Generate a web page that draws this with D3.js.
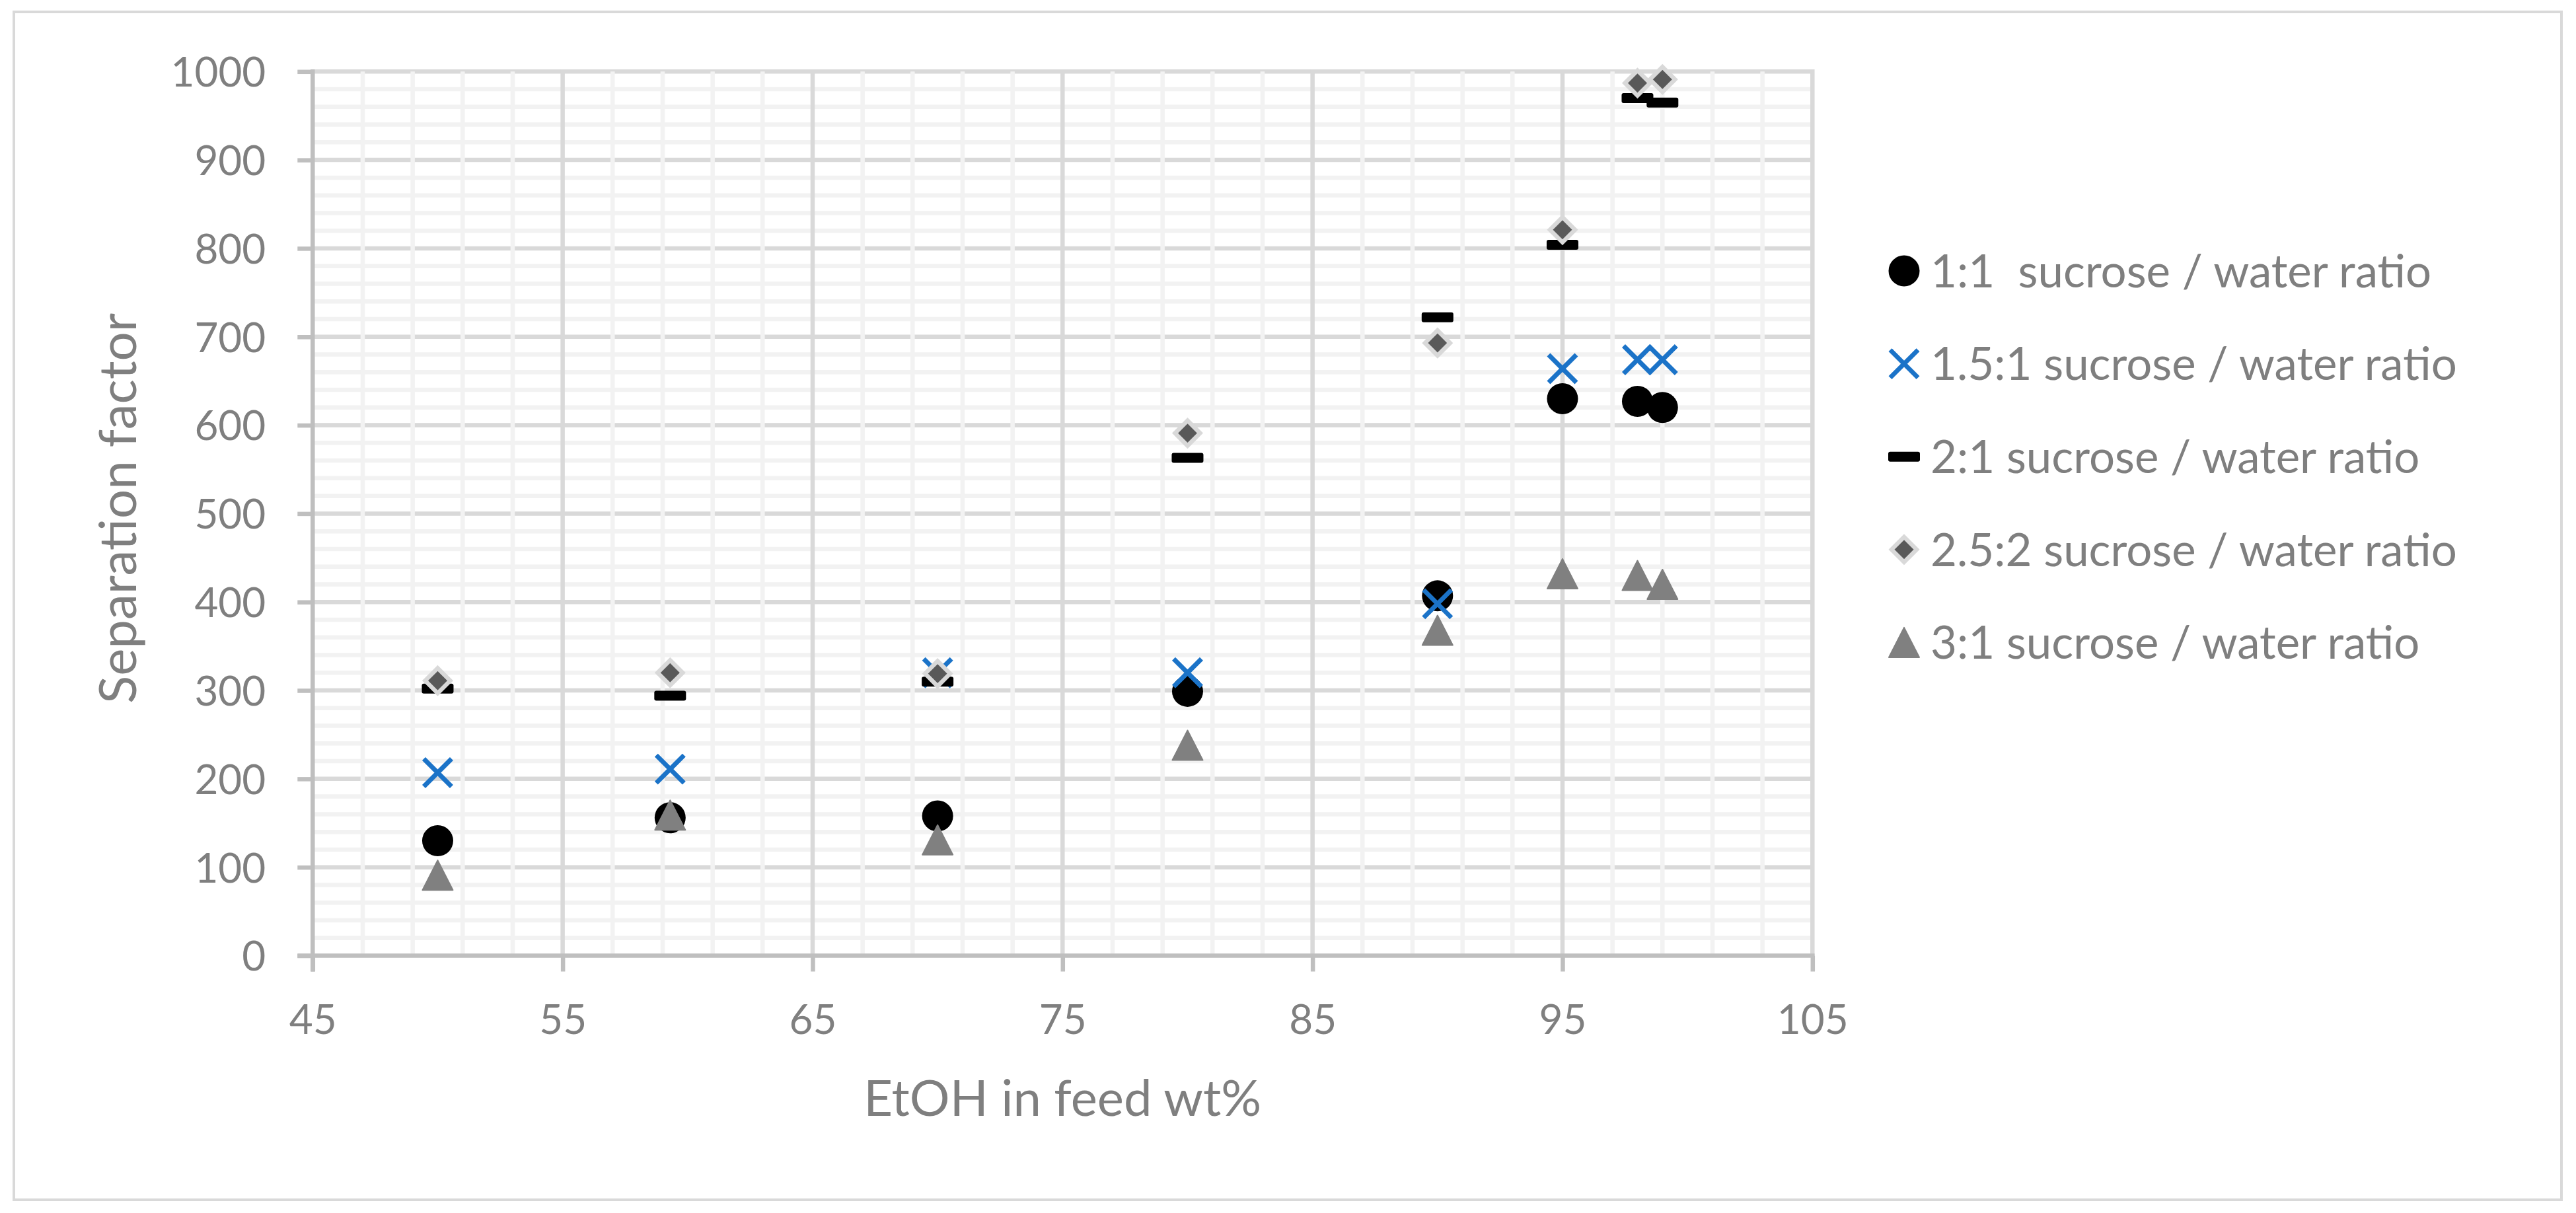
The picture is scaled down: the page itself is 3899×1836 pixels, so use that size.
<!DOCTYPE html>
<html><head><meta charset="utf-8">
<script src="https://cdn.jsdelivr.net/npm/d3@7"></script>
<style>
html,body{margin:0;padding:0;background:#fff;}
svg{display:block;}
text{font-family:Lato,"Open Sans",sans-serif;fill:#7f7f7f;}
</style>
</head><body>
<svg id="chart" width="3899" height="1836"></svg>
<script>
// ---- data ----
const feedEtOH = [50, 59.3, 70, 80, 90, 95, 98, 99];
const sf_1_1   = [130, 156, 158, 299, 407, 630, 627, 620];
const sf_15_1  = [207, 211, 320, 320, 398, 664, 674, 674];
const sf_2_1   = [302, 294, 310, 563, 722, 804, 970, 965];
const sf_25_2  = [311, 320, 319, 591, 693, 821, 987, 991];
const sf_3_1   = [91, 159, 131, 238, 368, 432, 430, 420];
const seriesNames = ["1:1  sucrose / water ratio", "1.5:1 sucrose / water ratio",
  "2:1 sucrose / water ratio", "2.5:2 sucrose / water ratio", "3:1 sucrose / water ratio"];
const xTickValues = [45, 55, 65, 75, 85, 95, 105];
const yTickValues = [0, 100, 200, 300, 400, 500, 600, 700, 800, 900, 1000];
const xTitle = "EtOH in feed wt%";
const yTitle = "Separation factor";

// ---- layout ----
const svg = d3.select("#chart");
const L = 473.3, R = 2743.3, T = 108.3, B = 1446.5;
const x = d3.scaleLinear().domain([45, 105]).range([L, R]);
const y = d3.scaleLinear().domain([0, 1000]).range([B, T]);
const LW = 6.5;

// outer border
svg.append("rect").attr("x", 21).attr("y", 18).attr("width", 3856).attr("height", 1798)
  .attr("fill", "#fff").attr("stroke", "#d9d9d9").attr("stroke-width", 4);

const grid = svg.append("g");
// horizontal major
grid.selectAll(".hmaj").data(d3.range(100, 1001, 100)).join("line")
  .attr("x1", L).attr("x2", R).attr("y1", d => y(d)).attr("y2", d => y(d))
  .attr("stroke", "#d9d9d9").attr("stroke-width", LW);
// horizontal minor
grid.selectAll(".hmin").data(d3.range(20, 1000, 20).filter(d => d % 100 !== 0)).join("line")
  .attr("x1", L).attr("x2", R).attr("y1", d => y(d)).attr("y2", d => y(d))
  .attr("stroke", "#f2f2f2").attr("stroke-width", LW);
// vertical minor
grid.selectAll(".vmin").data(d3.range(47, 105, 2).filter(d => (d - 45) % 10 !== 0)).join("line")
  .attr("x1", d => x(d)).attr("x2", d => x(d)).attr("y1", T).attr("y2", B)
  .attr("stroke", "#f2f2f2").attr("stroke-width", LW);
// vertical major
grid.selectAll(".vmaj").data(xTickValues.slice(1)).join("line")
  .attr("x1", d => x(d)).attr("x2", d => x(d)).attr("y1", T - LW / 2).attr("y2", B)
  .attr("stroke", "#d9d9d9").attr("stroke-width", LW);

// axes
const yAxis = d3.axisLeft(y).tickValues(yTickValues).tickSize(23).tickPadding(48).tickFormat(d3.format("d"));
const gy = svg.append("g").attr("transform", `translate(${L},0)`).call(yAxis);
const xAxis = d3.axisBottom(x).tickValues(xTickValues).tickSize(24).tickPadding(50).tickFormat(d3.format("d"));
const gx = svg.append("g").attr("transform", `translate(0,${B})`).call(xAxis);
[gx, gy].forEach(g => {
  g.select(".domain").remove();
  g.selectAll(".tick line").attr("stroke", "#bfbfbf").attr("stroke-width", LW);
  g.selectAll(".tick text").attr("fill", "#7f7f7f").style("font-size", "62px")
    .style("font-family", 'Lato,"Open Sans",sans-serif');
});
gy.selectAll(".tick text").attr("dy", "0.36em");
gx.selectAll(".tick text").attr("dy", "0.72em");
// axis lines
svg.append("line").attr("x1", L).attr("x2", L).attr("y1", T - LW / 2).attr("y2", B + 24)
  .attr("stroke", "#bfbfbf").attr("stroke-width", LW);
svg.append("line").attr("x1", L - 23).attr("x2", R + LW / 2).attr("y1", B).attr("y2", B)
  .attr("stroke", "#bfbfbf").attr("stroke-width", LW);

// titles
svg.append("text").attr("x", (L + R) / 2).attr("y", 1689).attr("text-anchor", "middle")
  .style("font-size", "76px").text(xTitle);
svg.append("text").attr("transform", `translate(206,${(T + B) / 2 - 8}) rotate(-90)`)
  .attr("text-anchor", "middle").style("font-size", "78px").text(yTitle);

// ---- markers ----
function drawMarker(g, type) {
  if (type === 0) {
    g.append("circle").attr("r", 23.5).attr("fill", "#000");
  } else if (type === 1) {
    g.append("path").attr("d", "M-21,-21L21,21M-21,21L21,-21")
      .attr("stroke", "#1b73c8").attr("stroke-width", 7).attr("fill", "none");
  } else if (type === 2) {
    g.append("rect").attr("x", -24).attr("y", -7.5).attr("width", 48).attr("height", 15)
      .attr("rx", 3).attr("fill", "#000");
  } else if (type === 3) {
    g.append("path").attr("d", "M0,-19L19,0L0,19L-19,0Z")
      .attr("fill", "#595959").attr("stroke", "#d9d9d9").attr("stroke-width", 6.4)
      .attr("stroke-linejoin", "miter");
  } else {
    g.append("path").attr("d", "M0,-22.5L23,22.5L-23,22.5Z")
      .attr("fill", "#808080").attr("stroke", "#808080").attr("stroke-width", 2)
      .attr("stroke-linejoin", "round");
  }
}

const allSeries = [sf_1_1, sf_15_1, sf_2_1, sf_25_2, sf_3_1];
allSeries.forEach((vals, si) => {
  const gs = svg.append("g");
  vals.forEach((v, i) => {
    const g = gs.append("g").attr("transform", `translate(${x(feedEtOH[i])},${y(v)})`);
    drawMarker(g, si);
  });
});

// ---- legend ----
const legendX = 2882, legendY0 = 410, legendDY = 140.6;
seriesNames.forEach((name, i) => {
  const g = svg.append("g").attr("transform", `translate(${legendX},${legendY0 + i * legendDY})`);
  drawMarker(g, i);
  g.append("text").attr("x", 40).attr("y", 0).attr("dy", "0.36em")
    .style("font-size", "69px").style("white-space", "pre").text(name);
});
</script>
</body></html>
